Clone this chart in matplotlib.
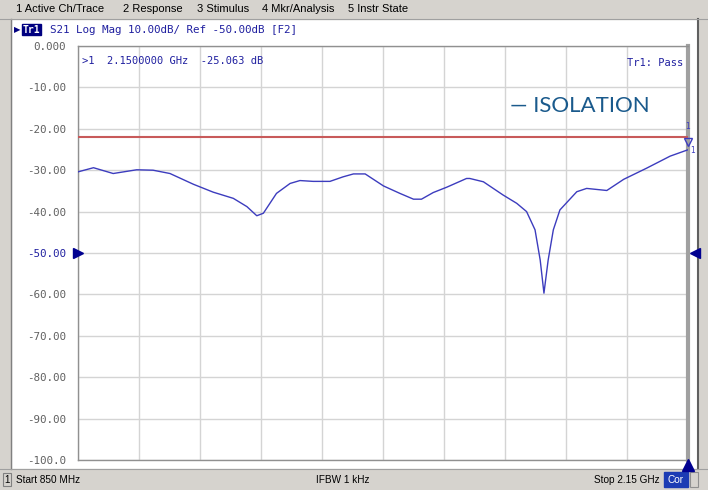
import numpy as np
import matplotlib.pyplot as plt
from matplotlib.patches import Rectangle

# trace S21 (MHz, dB)
freq = [850, 883, 925, 975, 1010, 1046, 1096, 1138, 1181, 1210, 1231, 1245,
        1273, 1302, 1323, 1351, 1387, 1415, 1437, 1462, 1501, 1536, 1565, 1582,
        1607, 1636, 1678, 1685, 1714, 1756, 1785, 1806, 1824, 1835, 1843, 1852,
        1863, 1877, 1913, 1934, 1977, 2013, 2062, 2112, 2150]
s21 = [-30.4, -29.4, -30.8, -29.9, -30.0, -30.8, -33.4, -35.3, -36.8, -38.8, -41.0, -40.4,
       -35.6, -33.2, -32.5, -32.7, -32.7, -31.6, -30.9, -30.9, -33.8, -35.6, -37.0, -37.0,
       -35.4, -34.1, -32.0, -32.0, -32.8, -36.0, -38.0, -40.0, -44.4, -51.7, -59.7, -51.7,
       -44.4, -39.6, -35.2, -34.4, -34.9, -32.2, -29.5, -26.6, -25.063]
limit_db = -22.0
yticks = [0, -10, -20, -30, -40, -50, -60, -70, -80, -90, -100]
ylabels = ['0.000', '-10.00', '-20.00', '-30.00', '-40.00', '-50.00',
           '-60.00', '-70.00', '-80.00', '-90.00', '-100.0']
menu = [('1 Active Ch/Trace', 16), ('2 Response', 123), ('3 Stimulus', 197),
        ('4 Mkr/Analysis', 262), ('5 Instr State', 348)]

W, H = 708, 490
fig = plt.figure(figsize=(W / 100, H / 100), dpi=100)
fig.patch.set_facecolor('white')

# window chrome drawn in pixel coordinates
bg = fig.add_axes([0, 0, 1, 1], zorder=0)
bg.set_xlim(0, W)
bg.set_ylim(H, 0)
bg.axis('off')
gray = '#d6d3ce'
bg.add_patch(Rectangle((0, 0), W, 19, color=gray))
bg.add_patch(Rectangle((0, 19), 11, H, color=gray))
bg.add_patch(Rectangle((698, 19), 10, H, color=gray))
bg.add_patch(Rectangle((0, 469), W, 21, color=gray))
bg.plot([11, 11], [19, 469], color='#808080', lw=1)
bg.plot([698, 698], [19, 469], color='#606060', lw=1.5)
bg.plot([0, W], [19, 19], color='#a0a0a0', lw=0.8)
bg.plot([0, W], [469, 469], color='#a0a0a0', lw=0.8)
for label, x in menu:
    bg.text(x, 9.5, label, fontsize=8, family='Liberation Sans', va='center', ha='left')

mono = 'DejaVu Sans Mono'
blue = '#2020a0'
bg.text(14, 30, '\u25b6', fontsize=6, color='#000080', va='center', ha='left')
bg.add_patch(Rectangle((22, 24.5), 19, 11, color='#000080'))
bg.text(31.5, 30, 'Tr1', fontsize=7, family=mono, color='white', va='center', ha='center', weight='bold')
bg.text(50, 30, 'S21 Log Mag 10.00dB/ Ref -50.00dB [F2]', fontsize=7.8,
        family=mono, color=blue, va='center', ha='left')

# status bar
bg.add_patch(Rectangle((3, 473), 8, 13, fill=False, ec='#808080', lw=0.8))
bg.text(7, 479.5, '1', fontsize=7, family='Liberation Sans', va='center', ha='center')
bg.text(16, 479.5, 'Start 850 MHz', fontsize=7.2, family='Liberation Sans', va='center')
bg.text(316, 479.5, 'IFBW 1 kHz', fontsize=7.2, family='Liberation Sans', va='center')
bg.text(594, 479.5, 'Stop 2.15 GHz', fontsize=7.2, family='Liberation Sans', va='center')
bg.add_patch(Rectangle((664, 472), 24, 15, color='#1c3cb4'))
bg.text(676, 479.5, 'Cor', fontsize=7.2, family='Liberation Sans', color='white', va='center', ha='center')
bg.add_patch(Rectangle((690, 472), 8, 15, fill=False, ec='#909090', lw=0.8))

# measurement grid
ax = fig.add_axes([78 / W, 1 - 460 / H, 610 / W, 414 / H], zorder=1)
ax.set_xlim(850, 2150)
ax.set_ylim(-100, 0)
ax.set_xticks(np.linspace(850, 2150, 11))
ax.set_xticklabels([])
ax.set_yticks(yticks)
ax.set_yticklabels(ylabels, family=mono, fontsize=7.8)
for t, v in zip(ax.get_yticklabels(), yticks):
    t.set_color(blue if v == -50 else '#606060')
ax.tick_params(length=0, pad=8.5)
ax.grid(True, color='#d4d4d4', lw=1)
for side in ['left', 'bottom', 'top']:
    ax.spines[side].set_color('#909090')
    ax.spines[side].set_linewidth(1)
ax.spines['right'].set_color('#a0a0a0')
ax.spines['right'].set_linewidth(3)

ax.axhline(limit_db, color='#c85a5a', lw=1.5, zorder=3)
ax.plot(freq, s21, color='#3c3cbe', lw=1.0, zorder=4)

# markers and reference indicators
ax.plot([freq[-1]], [-23.2], marker='v', ms=6, mfc='none', mec='#3c3cbe', mew=1,
        clip_on=False, zorder=5)
ax.text(freq[-1], -20.6, '1', fontsize=5.5, color='#3c3cbe', ha='center', va='bottom')
ax.text(freq[-1] + 4, -25.2, '1', fontsize=5.5, color='#3c3cbe', ha='left', va='center')
ax.plot([0.0], [-50], transform=ax.get_yaxis_transform(), marker='>', ms=7,
        color='#000090', clip_on=False, zorder=5)
ax.plot([1.012], [-50], transform=ax.get_yaxis_transform(), marker='<', ms=7,
        color='#000090', clip_on=False, zorder=5)
ax.plot([freq[-1]], [-101.2], marker='^', ms=8, color='#000090', clip_on=False, zorder=5)

ax.text(0.007, 0.975, '>1  2.1500000 GHz  -25.063 dB', transform=ax.transAxes,
        fontsize=7.5, family=mono, color=blue, va='top', ha='left')
ax.text(0.992, 0.97, 'Tr1: Pass', transform=ax.transAxes, fontsize=7.5,
        family=mono, color=blue, va='top', ha='right')
ax.text(0.708, 0.855, '\u2014 ISOLATION', transform=ax.transAxes, fontsize=16,
        family='Lato', color='#1a5a8c', va='center', ha='left')

fig.savefig('out.png', dpi=100)
